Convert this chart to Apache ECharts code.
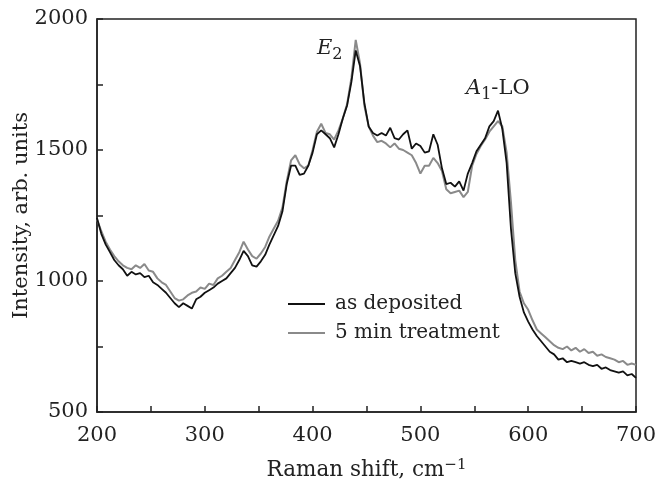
<!DOCTYPE html>
<html><head><meta charset="utf-8">
<script src="https://cdn.jsdelivr.net/npm/echarts@6/dist/echarts.min.js"></script>
<style>html,body{margin:0;padding:0;background:#fff}#c{width:670px;height:479px}</style>
</head><body><div id="c"></div>
<script>
const ramanShift = [200,204,208,212,216,220,224,228,232,236,240,244,248,252,256,260,264,268,272,276,280,284,288,292,296,300,304,308,312,316,320,324,328,332,336,340,344,348,352,356,360,364,368,372,376,380,384,388,392,396,400,404,408,412,416,420,424,428,432,436,440,444,448,452,456,460,464,468,472,476,480,484,488,492,496,500,504,508,512,516,520,524,528,532,536,540,544,548,552,556,560,564,568,572,576,580,584,588,592,596,600,604,608,612,616,620,624,628,632,636,640,644,648,652,656,660,664,668,672,676,680,684,688,692,696,700];
const asDeposited = [1240,1180,1140,1110,1080,1060,1045,1020,1035,1025,1030,1015,1020,995,985,970,955,935,915,900,915,905,895,930,940,955,965,975,990,1000,1010,1030,1050,1080,1115,1095,1060,1055,1075,1100,1140,1175,1210,1265,1370,1440,1440,1405,1410,1440,1490,1560,1575,1560,1545,1510,1560,1620,1670,1760,1880,1820,1680,1590,1565,1555,1565,1555,1585,1545,1540,1560,1575,1505,1525,1515,1490,1495,1560,1520,1430,1370,1375,1360,1380,1345,1410,1450,1495,1520,1545,1590,1610,1650,1580,1450,1200,1030,940,880,845,815,790,770,750,730,720,700,705,690,695,690,685,690,680,675,680,665,670,660,655,650,655,640,645,630];
const treatment5min = [1235,1190,1150,1120,1095,1075,1060,1050,1045,1060,1050,1065,1040,1035,1010,995,985,960,935,925,930,945,955,960,975,970,990,985,1010,1020,1035,1050,1080,1110,1150,1120,1095,1085,1105,1130,1170,1200,1230,1280,1380,1460,1480,1445,1430,1440,1500,1570,1600,1565,1560,1540,1575,1620,1675,1775,1920,1830,1670,1590,1555,1530,1535,1525,1510,1525,1505,1500,1490,1480,1450,1410,1440,1440,1470,1450,1420,1350,1335,1340,1345,1320,1340,1440,1485,1515,1540,1570,1590,1610,1590,1490,1300,1080,960,915,890,850,815,800,785,770,755,745,740,750,735,745,730,740,725,730,715,720,710,705,700,690,695,680,685,680];
const xTicks = [200,300,400,500,600,700];
const yTicks = [500,1000,1500,2000];
const seriesNames = ['as deposited','5 min treatment'];

const font = 'DejaVu Serif';
const chart = echarts.init(document.getElementById('c'));
chart.setOption({
  animation:false,
  backgroundColor:'#fff',
  grid:{left:97,right:34,top:19,bottom:67,outerBoundsMode:'none',containLabel:false,show:true,borderColor:'#222',borderWidth:1.5,backgroundColor:'transparent'},
  legend:{
    orient:'vertical',left:288,top:292,padding:0,itemWidth:37,itemHeight:2,itemGap:5,icon:'rect',
    data:seriesNames,
    textStyle:{fontFamily:font,fontSize:20,lineHeight:24,color:'#222',padding:[0,0,0,5]}
  },
  xAxis:{
    type:'value',min:200,max:700,interval:100,
    axisLine:{show:true,lineStyle:{color:'#222',width:1.5}},
    axisTick:{show:true,inside:true,length:6,lineStyle:{color:'#222',width:1.5}},
    minorTick:{show:true,splitNumber:2,length:6,lineStyle:{color:'#222',width:1.5}},
    splitLine:{show:false},
    axisLabel:{fontFamily:font,fontSize:21,color:'#222',margin:13,formatter:v=>String(v)},
    name:'Raman shift, cm{sup|−1}',nameLocation:'middle',nameGap:46,nameMoveOverlap:false,
    nameTextStyle:{fontFamily:font,fontSize:21.5,color:'#222',
      rich:{sup:{fontFamily:font,fontSize:15,color:'#222',verticalAlign:'top',padding:[0,0,10,0]}}}
  },
  yAxis:{
    type:'value',min:500,max:2000,interval:500,
    axisLine:{show:true,lineStyle:{color:'#222',width:1.5}},
    axisTick:{show:true,inside:true,length:6,lineStyle:{color:'#222',width:1.5}},
    minorTick:{show:true,splitNumber:2,length:6,lineStyle:{color:'#222',width:1.5}},
    splitLine:{show:false},
    axisLabel:{fontFamily:font,fontSize:21,color:'#222',margin:9,formatter:v=>String(v)},
    name:'Intensity, arb. units',nameLocation:'middle',nameGap:65,nameMoveOverlap:false,
    nameTextStyle:{fontFamily:font,fontSize:21,color:'#222'}
  },
  series:[
    {name:seriesNames[1],type:'line',symbol:'none',data:ramanShift.map((x,i)=>[x,treatment5min[i]]),
     lineStyle:{color:'#8a8a8a',width:2},itemStyle:{color:'#8a8a8a'},z:2},
    {name:seriesNames[0],type:'line',symbol:'none',data:ramanShift.map((x,i)=>[x,asDeposited[i]]),
     lineStyle:{color:'#111',width:1.8},itemStyle:{color:'#111'},z:3}
  ],
  graphic:[
    {type:'text',left:317,top:38,style:{text:'{i|E}{s|2}',
      rich:{i:{fontFamily:font,fontStyle:'italic',fontSize:21,fill:'#222'},s:{fontFamily:font,fontSize:16,fill:'#222',padding:[12,0,0,0]}}}},
    {type:'text',left:466,top:78,style:{text:'{i|A}{s|1}{n|-LO}',
      rich:{i:{fontFamily:font,fontStyle:'italic',fontSize:21,fill:'#222'},s:{fontFamily:font,fontSize:16,fill:'#222',padding:[12,0,0,0]},n:{fontFamily:font,fontSize:21,fill:'#222'}}}}
  ]
});
</script></body></html>
